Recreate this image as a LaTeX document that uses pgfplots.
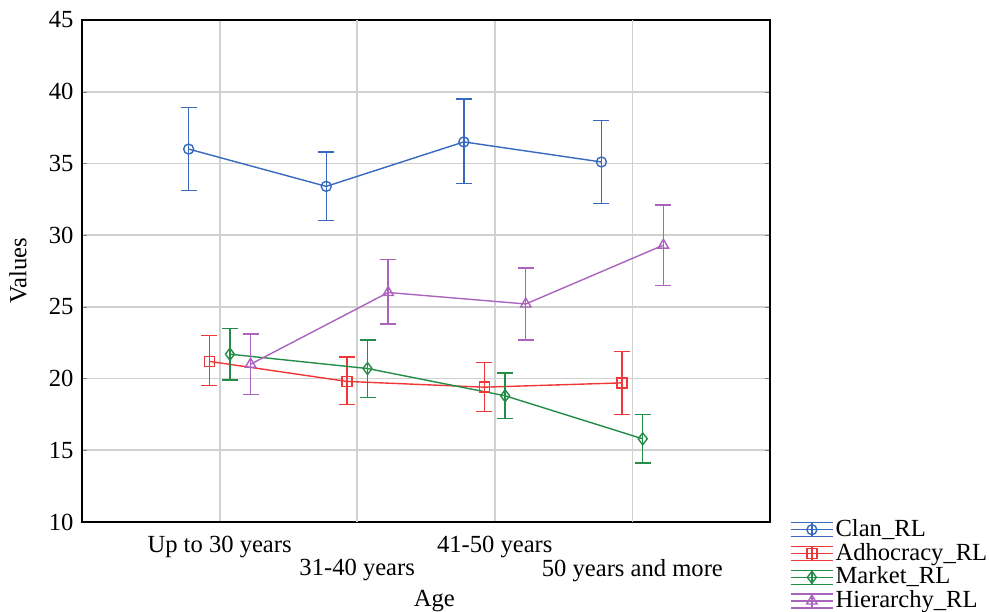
\documentclass[border=0pt]{standalone}
\usepackage{fontspec}
\setmainfont{Liberation Serif}
\usepackage{pgfplots}
\pgfplotsset{compat=1.18}
\definecolor{cclan}{RGB}{55,105,190}
\definecolor{cadh}{RGB}{240,55,55}
\definecolor{cmar}{RGB}{35,140,70}
\definecolor{chie}{RGB}{170,100,190}
\pgfplotstableread{
x y ep em
-0.225 36.0 2.9 2.9
0.775 33.4 2.4 2.4
1.775 36.5 3.0 2.9
2.775 35.1 2.9 2.9
}\clan
\pgfplotstableread{
x y ep em
-0.075 21.2 1.8 1.7
0.925 19.8 1.7 1.6
1.925 19.4 1.7 1.7
2.925 19.7 2.2 2.2
}\adh
\pgfplotstableread{
x y ep em
0.075 21.7 1.8 1.8
1.075 20.7 2.0 2.0
2.075 18.8 1.6 1.6
3.075 15.8 1.7 1.7
}\mar
\pgfplotstableread{
x y ep em
0.225 21.0 2.1 2.1
1.225 26.0 2.3 2.2
2.225 25.2 2.5 2.5
3.225 29.3 2.8 2.8
}\hie
\begin{document}
\fontsize{12.3}{14}\selectfont
\begin{tikzpicture}
\begin{axis}[
  width=344pt, height=251pt, scale only axis,
  xmin=-1, xmax=4, ymin=10, ymax=45,
  ytick={10,15,...,45},
  xtick={0,2}, xticklabels={Up to 30 years, 41-50 years},
  xticklabel style={yshift=-3pt},
  extra x ticks={1,3},
  extra x tick labels={31-40 years, 50 years and more},
  extra x tick style={grid=major, major tick length=0pt, xticklabel style={yshift=-11.5pt}},
  major x tick style={draw=none},
  major tick length=2.5pt,
  grid=major,
  major grid style={draw=black!18, line width=0.9pt},
  axis line style={line width=0.9pt},
  tick label style={font=\fontsize{12.3}{14}\selectfont},
  /pgf/number format/assume math mode=true,
  xlabel={Age}, ylabel={Values},
  label style={font=\fontsize{12.3}{14}\selectfont},
  xlabel style={at={(axis description cs:0.512,-0.157)}, anchor=center},
  ylabel style={at={(axis description cs:-0.093,0.5)}, anchor=center, rotate=0},
  legend style={at={(axis description cs:1.02,0.018)}, anchor=north west, draw=none, fill=none,
    font=\fontsize{12.3}{14}\selectfont, row sep=-0.5pt,
    nodes={inner sep=1pt}},
  legend cell align=left,
  legend image code/.code={
    \draw[#1, mark=none] (0pt,3.5pt) -- (21pt,3.5pt);
    \draw[#1, mark=none] (0pt,-3.5pt) -- (21pt,-3.5pt);
    \draw[#1, mark=none] (10.5pt,-3.5pt) -- (10.5pt,3.5pt);
    \draw[mark repeat=2,mark phase=2,#1] plot coordinates {(0pt,0pt) (10.5pt,0pt) (21pt,0pt)};
  },
  every axis plot/.append style={line width=0.7pt},
  error bars/error bar style={line width=0.7pt},
  error bars/error mark options={rotate=90, mark size=4pt, line width=0.7pt},
]
\addplot[cclan, mark=o, mark size=2.5pt, error bars/.cd, y dir=both, y explicit]
  table[x=x, y=y, y error plus=ep, y error minus=em] {\clan};
\addlegendentry{Clan\_RL}
\addplot[cadh, mark=square, mark size=2.5pt, error bars/.cd, y dir=both, y explicit]
  table[x=x, y=y, y error plus=ep, y error minus=em] {\adh};
\addlegendentry{Adhocracy\_RL}
\addplot[cmar, mark=diamond, mark size=3pt, error bars/.cd, y dir=both, y explicit]
  table[x=x, y=y, y error plus=ep, y error minus=em] {\mar};
\addlegendentry{Market\_RL}
\addplot[chie, mark=triangle, mark size=3pt, error bars/.cd, y dir=both, y explicit]
  table[x=x, y=y, y error plus=ep, y error minus=em] {\hie};
\addlegendentry{Hierarchy\_RL}
\coordinate (bl) at (rel axis cs:0,0);
\coordinate (tr) at (rel axis cs:1,1);
\end{axis}
\pgfresetboundingbox
\path[use as bounding box] ([shift={(-41pt,-45pt)}]bl) rectangle ([shift={(110pt,10pt)}]tr);
\end{tikzpicture}
\end{document}
